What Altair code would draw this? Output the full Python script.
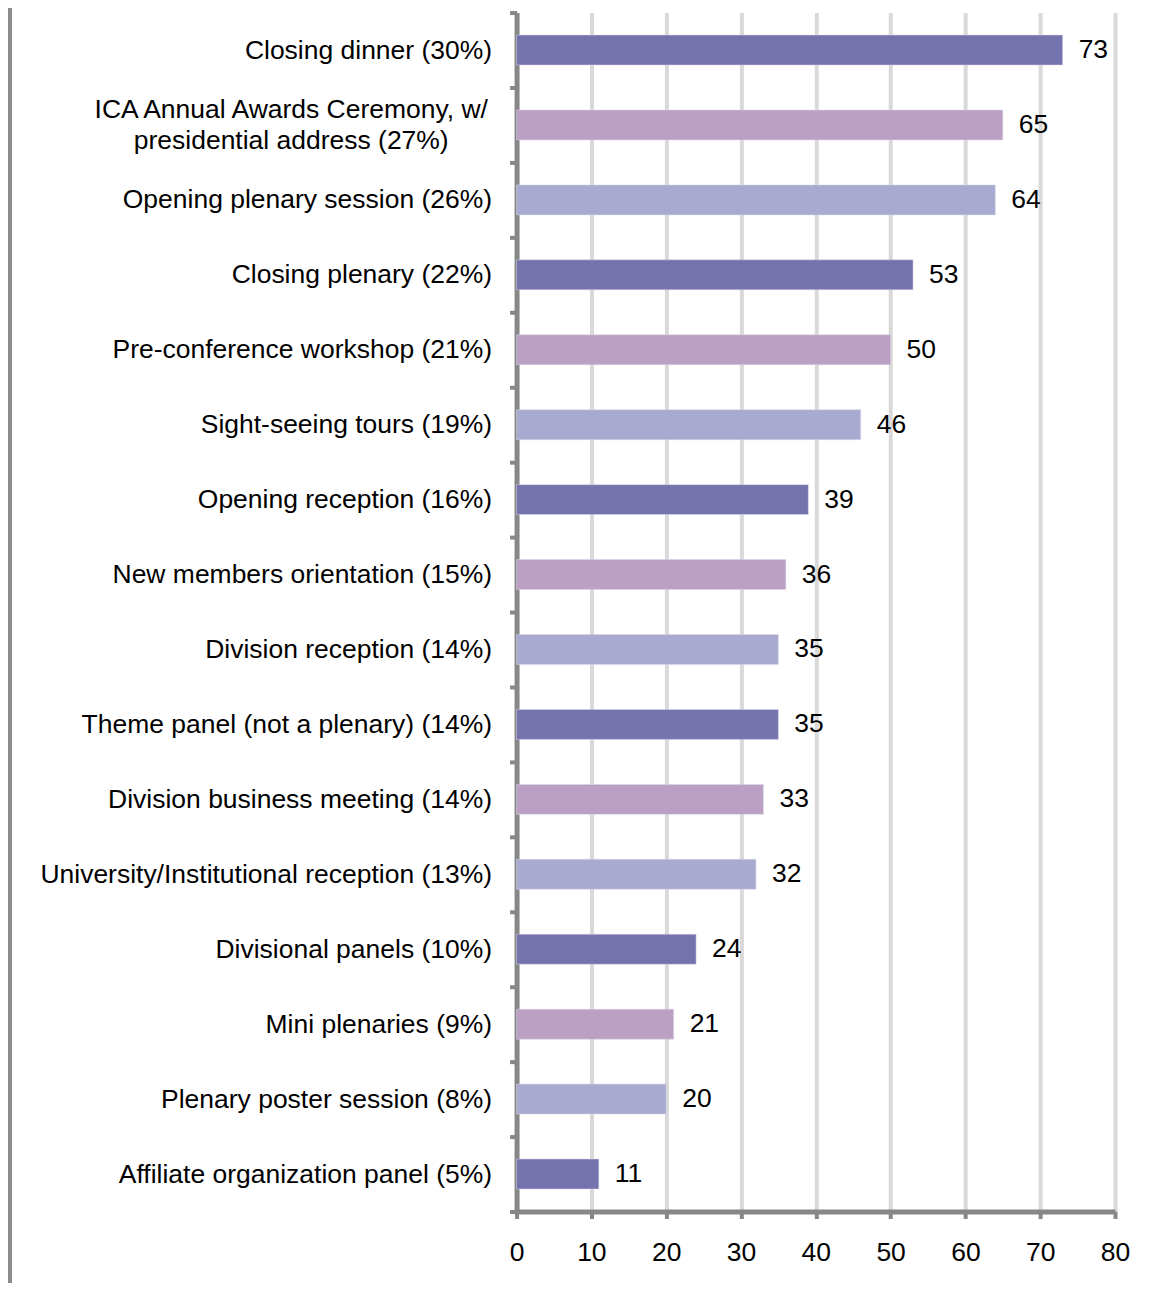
import altair as alt
import pandas as pd

categories = [
    "Closing dinner (30%)",
    "ICA Annual Awards Ceremony, w/|presidential address (27%)",
    "Opening plenary session (26%)",
    "Closing plenary (22%)",
    "Pre-conference workshop (21%)",
    "Sight-seeing tours (19%)",
    "Opening reception (16%)",
    "New members orientation (15%)",
    "Division reception (14%)",
    "Theme panel (not a plenary) (14%)",
    "Division business meeting (14%)",
    "University/Institutional reception (13%)",
    "Divisional panels (10%)",
    "Mini plenaries (9%)",
    "Plenary poster session (8%)",
    "Affiliate organization panel (5%)",
]
values = [73, 65, 64, 53, 50, 46, 39, 36, 35, 35, 33, 32, 24, 21, 20, 11]
groups = (["a", "b", "c"] * 6)[: len(categories)]
palette = ["#7473AE", "#BCA0C3", "#A9AAD0"]

df = pd.DataFrame({"cat": categories, "val": values, "grp": groups})

FONT = "Liberation Sans"
FS = 26.5
IS_MULTI = "isString(datum.value) && indexof(datum.value, '|') >= 0"

y_enc = alt.Y(
    "cat:N",
    sort=categories,
    scale=alt.Scale(paddingInner=0, paddingOuter=0),
    axis=alt.Axis(
        title=None,
        tickBand="extent",
        tickSize=7,
        tickWidth=4,
        tickColor="#878787",
        domainColor="#878787",
        domainWidth=5,
        labelFont=FONT,
        labelFontSize=FS,
        labelColor="#000000",
        labelLineHeight=31,
        labelExpr="isString(datum.value) ? split(datum.value, '|') : ''",
        labelAlign={"condition": {"test": IS_MULTI, "value": "center"}, "value": "right"},
        labelPadding={"condition": {"test": IS_MULTI, "value": 219}, "value": 18},
        labelOffset={"condition": {"test": IS_MULTI, "value": -15.5}, "value": 0},
        labelLimit=0,
        grid=False,
    ),
)

x_enc = alt.X(
    "val:Q",
    scale=alt.Scale(domain=[0, 80], nice=False),
    axis=alt.Axis(
        title=None,
        values=list(range(0, 81, 10)),
        tickSize=7,
        tickWidth=4,
        tickColor="#878787",
        domainColor="#878787",
        domainWidth=5,
        labelFont=FONT,
        labelFontSize=FS,
        labelColor="#000000",
        labelPadding=21,
        labelFlush=False,
        grid=True,
        gridColor="#D9D9D9",
        gridWidth=4,
    ),
)

bars = alt.Chart(df).mark_bar(
    height={"band": 0.4}, stroke="#D8D8EA", strokeWidth=0.5
).encode(
    y=y_enc,
    x=x_enc,
    color=alt.Color("grp:N", scale=alt.Scale(domain=["a", "b", "c"], range=palette), legend=None),
)

labels = alt.Chart(df).mark_text(
    align="left", baseline="middle", dx=16, font=FONT, fontSize=FS, color="#000000"
).encode(
    y=alt.Y("cat:N", sort=categories),
    x=alt.X("val:Q"),
    text=alt.Text("val:Q"),
)

border_df = pd.DataFrame({"k": [0]})
border = alt.Chart(border_df).mark_rule(color="#8C8C8C", strokeWidth=6).encode(
    x=alt.value(-508), y=alt.value(-12), y2=alt.value(1290)
)

chart = (
    alt.layer(bars, labels, border)
    .properties(width=599, height=1200, padding={"left": 509, "top": 4, "right": 33, "bottom": 71})
    .configure(autosize=alt.AutoSizeParams(type="none"))
    .configure_view(stroke=None)
)

chart.save("out.html", embed_options={"renderer": "svg", "actions": False})
